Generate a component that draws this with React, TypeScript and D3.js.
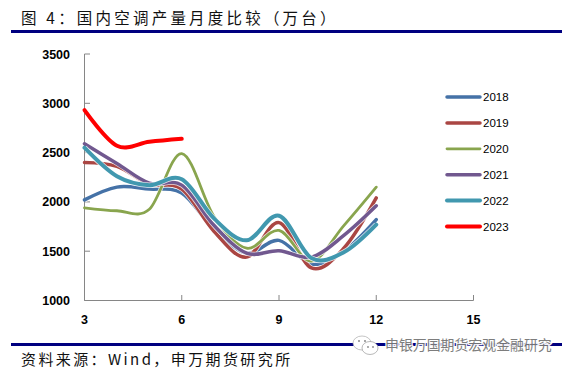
import React from "react";
import * as d3 from "d3";

const months = [3, 4, 5, 6, 7, 8, 9, 10, 11, 12];
const s2018 = [2020, 2150, 2130, 2090, 1720, 1480, 1610, 1370, 1500, 1820];
const s2019 = [2400, 2360, 2180, 2130, 1700, 1440, 1790, 1330, 1530, 2040];
const s2020 = [1940, 1910, 1925, 2490, 1850, 1530, 1710, 1400, 1760, 2150];
const s2021 = [2590, 2390, 2190, 2170, 1760, 1480, 1505, 1440, 1660, 1960];
const s2022 = [2550, 2260, 2170, 2230, 1830, 1610, 1860, 1430, 1490, 1770];
const s2023 = [2930, 2570, 2610, 2640];
const seriesNames = ["2018", "2019", "2020", "2021", "2022", "2023"];
const seriesValues = [s2018, s2019, s2020, s2021, s2022, s2023];
const seriesColors = ["#4572a7", "#aa4643", "#89a54e", "#71588f", "#4198af", "#ff0000"];
const seriesWidths = [3.5, 3.5, 2.8, 3.5, 4, 4];
const xTicks = [3, 6, 9, 12, 15];
const yTicks = [1000, 1500, 2000, 2500, 3000, 3500];
const title = "图 4：国内空调产量月度比较（万台）";
const source = "资料来源：Wind，申万期货研究所";
const watermark = "申银万国期货宏观金融研究";

const cjk = "'Noto Sans CJK SC', sans-serif";
const latin = "'Liberation Sans', Arial, sans-serif";

export default function App() {
  const x = d3.scaleLinear().domain([3, 15]).range([84.5, 473.5]);
  const y = d3.scaleLinear().domain([1000, 3500]).range([300.5, 54]);
  const line = d3
    .line<number>()
    .x((_, i) => x(months[i]))
    .y((d) => y(d))
    .curve(d3.curveCardinal.tension(0));

  return (
    <svg
      width={569}
      height={371}
      style={{ position: "fixed", left: 0, top: 0, background: "#fff" }}
    >
      <defs>
        <clipPath id="plot">
          <rect x={85} y={40} width={400} height={260} />
        </clipPath>
      </defs>
      <text x={21} y={24} fontFamily={cjk} fontSize={15.5} letterSpacing={3.2} fill="#111">
        {title}
      </text>
      <rect x={11} y={30} width={551} height={3} fill="#000080" />

      {yTicks.map((t) => (
        <g key={t}>
          <line x1={84.5} x2={90} y1={y(t)} y2={y(t)} stroke="#868686" />
          <text
            x={70}
            y={y(t) + 4.5}
            textAnchor="end"
            fontFamily={latin}
            fontWeight="bold"
            fontSize={12.5}
            fill="#000"
          >
            {t}
          </text>
        </g>
      ))}
      <line x1={84.5} x2={84.5} y1={54} y2={300.5} stroke="#868686" />
      <line x1={84.5} x2={473.5} y1={300.5} y2={300.5} stroke="#868686" />
      {xTicks.map((t) => (
        <g key={t}>
          <line x1={x(t)} x2={x(t)} y1={295} y2={300.5} stroke="#868686" />
          <text
            x={x(t)}
            y={324}
            textAnchor="middle"
            fontFamily={latin}
            fontWeight="bold"
            fontSize={12.5}
            fill="#000"
          >
            {t}
          </text>
        </g>
      ))}

      {seriesValues.map((vals, i) => (
        <g key={seriesNames[i]}>
          <path
            d={line(vals) ?? ""}
            fill="none"
            stroke="#fff"
            strokeWidth={seriesWidths[i] + 1.5}
            opacity={0.8}
            clipPath="url(#plot)"
          />
          <path
            d={line(vals) ?? ""}
            fill="none"
            stroke={seriesColors[i]}
            strokeWidth={seriesWidths[i]}
            strokeLinecap="round"
          />
        </g>
      ))}

      {seriesNames.map((n, i) => {
        const ly = 97 + i * 25.9;
        return (
          <g key={n}>
            <line
              x1={447}
              x2={480}
              y1={ly}
              y2={ly}
              stroke={seriesColors[i]}
              strokeWidth={seriesWidths[i]}
              strokeLinecap="round"
            />
            <text x={483} y={ly + 4} fontFamily={latin} fontSize={11.5} fill="#000">
              {n}
            </text>
          </g>
        );
      })}

      <rect x={11} y={343} width={551} height={3} fill="#000080" />
      <text x={21} y={365} fontFamily={cjk} fontSize={15} letterSpacing={2.4} fill="#111">
        {source}
      </text>

      <g>
        <ellipse cx={362} cy={343} rx={9} ry={7} fill="#fff" stroke="#aaa" strokeWidth={0.7} />
        <ellipse cx={370} cy={348} rx={8} ry={6.5} fill="#fff" stroke="#999" strokeWidth={0.7} />
        <circle cx={359} cy={341} r={1} fill="#888" />
        <circle cx={365} cy={341} r={1} fill="#888" />
        <circle cx={368} cy={347} r={0.9} fill="#888" />
        <circle cx={373} cy={347} r={0.9} fill="#888" />
        <text
          x={385}
          y={350}
          fontFamily={cjk}
          fontSize={13.9}
          fill="#777"
          stroke="#fff"
          strokeWidth={2.5}
          paintOrder="stroke"
          opacity={0.95}
        >
          {watermark}
        </text>
      </g>
    </svg>
  );
}
